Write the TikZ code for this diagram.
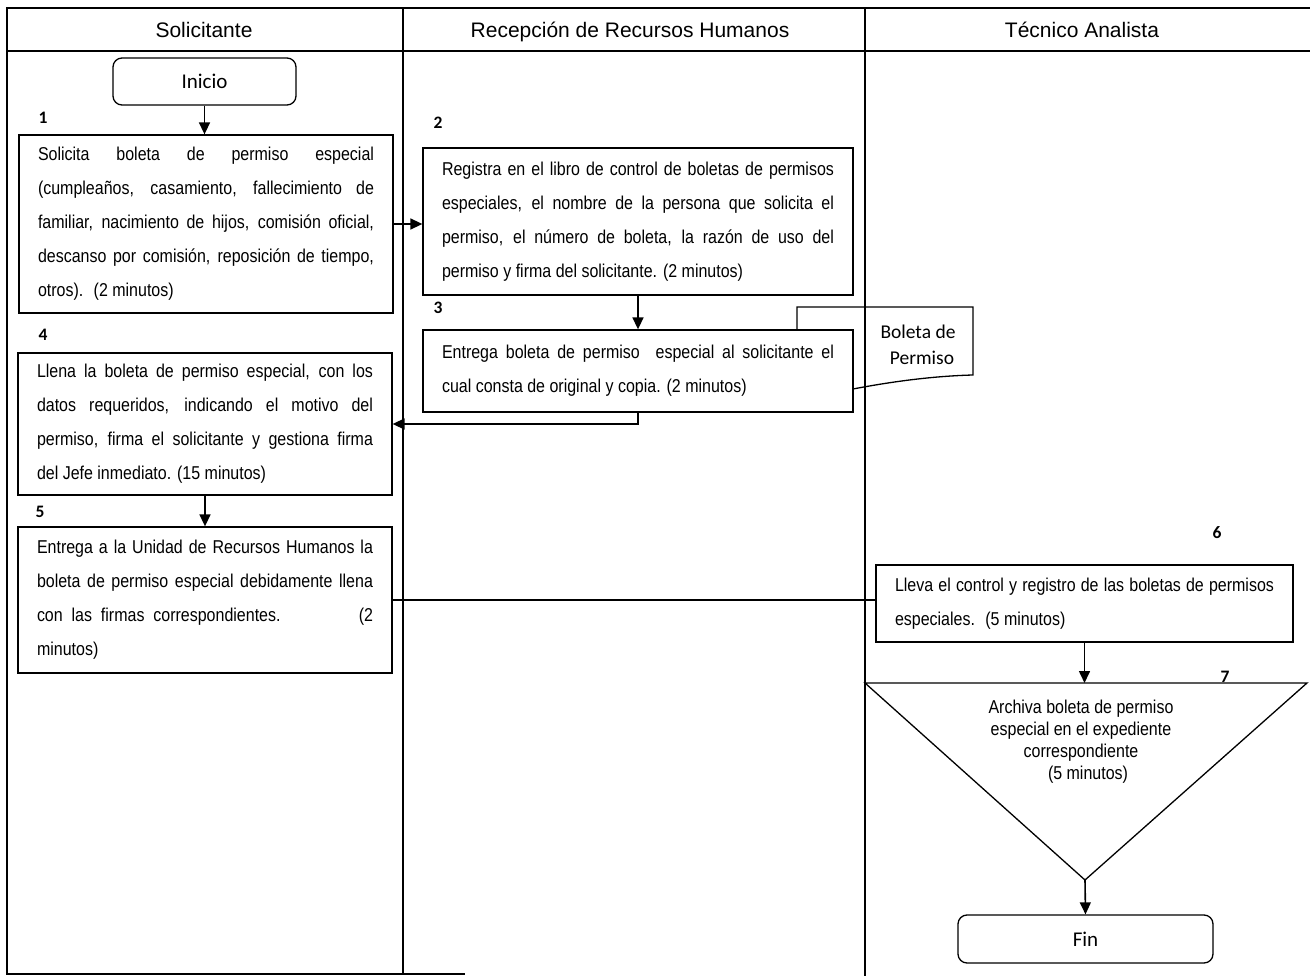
\documentclass[tikz,border=0pt]{standalone}
\usepackage{fontspec}
\setmainfont{Liberation Sans}
\newfontfamily\angosta{Liberation Sans}[FakeStretch=0.86]
\newfontfamily\calibri{Carlito}
\usepackage{tikz}
\usetikzlibrary{arrows.meta,calc}

\tikzset{
  carril/.style={line width=1.3pt},
  paso/.style={draw, line width=1.3pt, fill=white, align=justify, inner xsep=19pt, inner ysep=0pt,
    font={\angosta\fontsize{18.6}{34}\selectfont}},
  terminal/.style={draw, line width=1.3pt, rounded corners=9pt, fill=white,
    font={\calibri\fontsize{21}{24}\selectfont}},
  num/.style={font={\calibri\bfseries\fontsize{17.5}{17.5}\selectfont}},
  encabezado/.style={anchor=base, font={\fontsize{21}{21}\selectfont}},
  flecha/.style={line width=1.6pt, -{Triangle[length=12pt,width=11pt]}},
}

\begin{document}
\begin{tikzpicture}[x=1pt,y=1pt,yscale=-1]
\useasboundingbox (0,0) rectangle (1310,976);

%Lanes
\draw [carril] (1310,8) -- (7,8) -- (7,974) -- (465,974);
\draw [carril] (7,51) -- (1310,51);
\draw [carril] (403,8) -- (403,974);
\draw [carril] (865,8) -- (865,976);

% Header
\node [encabezado] (hsol) at (204,38) {Solicitante};
\node [encabezado] (hrec) at (630,38) {Recepción de Recursos Humanos};
\node [encabezado] (htec) at (1082,38) {Técnico Analista};

%Shape: Document
\draw [line width=1.3pt] (797,330) -- (797,307) -- (973,307) -- (973,375)
  .. controls (935,376) and (895,381) .. (853,389) -- (797,392) -- cycle;
\node [font={\calibri\fontsize{19.5}{26}\selectfont}, align=center] (boleta) at (918,345) {Boleta de\\ \hspace{8pt}Permiso};

% Terminals
\node [terminal, minimum width=183pt, minimum height=47pt] (ini) at (204.5,81.5) {Inicio};
\node [terminal, minimum width=255pt, minimum height=48pt] (fin) at (1085.5,939) {Fin};

% Steps
\node [paso, text width=336pt, minimum height=178pt] (p1) at (206,224)
  {Solicita boleta de permiso especial\linebreak
   (cumpleaños, casamiento, fallecimiento de\linebreak
   familiar, nacimiento de hijos, comisión oficial,\linebreak
   descanso por comisión, reposición de tiempo,\linebreak
   otros).~ (2 minutos)};
\node [paso, text width=392pt, minimum height=147pt] (p2) at (638,221.5)
  {Registra en el libro de control de boletas de permisos\linebreak
   especiales, el nombre de la persona que solicita el\linebreak
   permiso, el número de boleta, la razón de uso del\linebreak
   permiso y firma del solicitante. (2 minutos)};
\node [paso, text width=392pt, minimum height=82pt] (p3) at (638,371)
  {Entrega boleta de permiso~ especial al solicitante el\linebreak
   cual consta de original y copia. (2 minutos)};
\node [paso, text width=336pt, minimum height=142pt] (p4) at (205,424)
  {Llena la boleta de permiso especial, con los\linebreak
   datos requeridos, indicando el motivo del\linebreak
   permiso, firma el solicitante y gestiona firma\linebreak
   del Jefe inmediato. (15 minutos)};
\node [paso, text width=336pt, minimum height=146pt] (p5) at (205,600)
  {Entrega a la Unidad de Recursos Humanos la\linebreak
   boleta de permiso especial debidamente llena\linebreak
   con~ las~ firmas~ correspondientes.\hfill(2\linebreak
   minutos)};
\node [paso, text width=379pt, minimum height=77pt] (p6) at (1084.5,603.5)
  {Lleva el control y registro de las boletas de permisos\linebreak
   especiales.~ (5 minutos)};

%Shape: Triangle
\draw [line width=1.3pt] (865,683) -- (1307,683) -- (1085,880) coordinate (t7c) -- cycle;
\coordinate (t7top) at (1085,683);
\node [font={\angosta\fontsize{18.6}{22}\selectfont}, align=center] (t7) at (1081,742)
  {Archiva boleta de permiso\\ especial en el expediente\\ correspondiente\\ \hspace{14pt}(5 minutos)};

% Numbers
\node [num] (n1) at (43,118) {1};
\node [num] (n2) at (438,123) {2};
\node [num] (n3) at (438,308) {3};
\node [num] (n4) at (43,335) {4};
\node [num] (n5) at (40,512) {5};
\node [num] (n6) at (1217,533) {6};
\node [num] (n7) at (1225,677) {7};

% Connectors
\draw [flecha] (ini.south) -- (ini.south |- p1.north);
\draw [flecha] (p1.east) -- (p1.east -| p2.west);
\draw [flecha] (p2.south) -- (p3.north);
\draw [flecha] (p3.south) |- (p4.east);
\draw [flecha] (p4.south) -- (p5.north);
\draw [line width=1.3pt] (p5.east) -- (p5.east -| p6.west);
\draw [flecha] (p6.south) -- (p6.south |- t7top);
\draw [flecha] (t7c) -- (fin.north);

\end{tikzpicture}
\end{document}
